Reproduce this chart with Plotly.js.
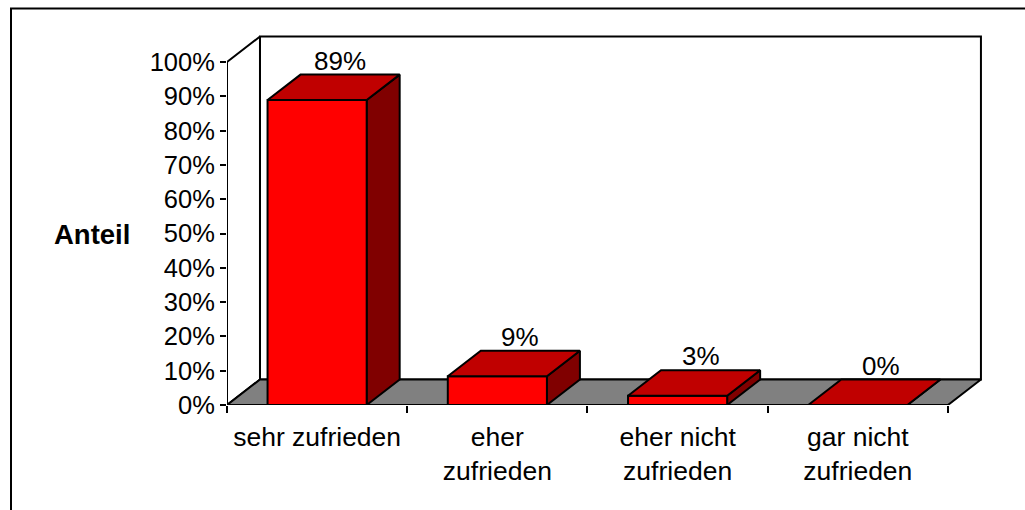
<!DOCTYPE html>
<html>
<head>
<meta charset="utf-8">
<script src="https://cdn.plot.ly/plotly-3.0.1.min.js"></script>
<style>
html,body{margin:0;padding:0;background:#fff;}
#chart{width:1025px;height:510px;}
</style>
</head>
<body>
<div id="chart"></div>
<script>
// ---- data ----
const categories = ['sehr zufrieden', 'eher<br>zufrieden', 'eher nicht<br>zufrieden', 'gar nicht<br>zufrieden'];
const shares = [0.889, 0.084, 0.027, 0.0];
const shareLabels = ['89%', '9%', '3%', '0%'];
const yTickValues = [0, 0.1, 0.2, 0.3, 0.4, 0.5, 0.6, 0.7, 0.8, 0.9, 1.0];
const yAxisLabel = 'Anteil';

// ---- geometry / style ----
const FONT = 'Liberation Sans, Arial, sans-serif';
const DX = 0.183;   // depth offset in x units
const DY = 0.0743;  // depth offset in y units
const BAR_W = 0.55;
const N = categories.length;
const LINE = {color: '#000', width: 2};

function poly(xs, ys, fill) {
  return {
    type: 'scatter', mode: 'lines',
    x: xs.concat([xs[0]]), y: ys.concat([ys[0]]),
    fill: 'toself', fillcolor: fill,
    line: LINE, hoverinfo: 'skip', showlegend: false
  };
}

const traces = [];
// back wall
traces.push(poly([DX, N + DX, N + DX, DX], [DY, DY, 1 + DY, 1 + DY], '#ffffff'));
// side wall
traces.push(poly([0, DX, DX, 0], [0, DY, 1 + DY, 1], '#ffffff'));
// floor
traces.push(poly([0, N, N + DX, DX], [0, 0, DY, DY], '#808080'));

// bars
const annotations = [];
shares.forEach((v, i) => {
  const c = i + 0.5, h = BAR_W / 2;
  const l = c - h, r = c + h;
  // side face
  traces.push(poly([r, r + DX, r + DX, r], [0, DY, v + DY, v], '#800000'));
  // front face
  if (v > 0) traces.push(poly([l, r, r, l], [0, 0, v, v], '#ff0000'));
  // top face
  traces.push(poly([l, r, r + DX, l + DX], [v, v, v + DY, v + DY], '#c00000'));
  annotations.push({
    x: c + 0.7 * DX, y: v + DY, xref: 'x', yref: 'y',
    text: shareLabels[i], showarrow: false,
    xanchor: 'center', yanchor: 'bottom', yshift: -3,
    font: {family: FONT, size: 26, color: '#000'}
  });
});

// y axis line
traces.push({type: 'scatter', mode: 'lines', x: [0, 0], y: [0, 1],
  line: LINE, hoverinfo: 'skip', showlegend: false});

annotations.push({
  xref: 'paper', yref: 'paper', x: -0.1255, y: 0.462,
  xanchor: 'right', yanchor: 'middle', showarrow: false,
  text: '<b>' + yAxisLabel + '</b>',
  font: {family: FONT, size: 27.5, color: '#000'}
});

const layout = {
  width: 1025, height: 510,
  margin: {l: 227, r: 41, t: 35, b: 105, pad: 0},
  paper_bgcolor: '#fff', plot_bgcolor: '#fff',
  font: {family: FONT, size: 25, color: '#000'},
  showlegend: false,
  xaxis: {
    range: [0, 4.2], showgrid: false, zeroline: false, showline: false,
    tickmode: 'array', tickvals: categories.map((_, i) => i + 0.5), ticktext: categories,
    ticks: '', ticklabelstandoff: 13,
    tickfont: {family: FONT, size: 26.5, color: '#000'},
    minor: {tickmode: 'linear', tick0: 0, dtick: 1, ticks: 'outside', ticklen: 7, tickwidth: 2, tickcolor: '#000', showgrid: false},
    fixedrange: true
  },
  yaxis: {
    range: [0, 370 / 343], showgrid: false, zeroline: false, showline: false,
    tickmode: 'array', tickvals: yTickValues, ticktext: yTickValues.map(t => Math.round(t * 100) + '%'),
    ticks: 'outside', ticklen: 6, tickwidth: 2, tickcolor: '#000',
    tickfont: {family: FONT, size: 25.5, color: '#000'},
    fixedrange: true
  },
  annotations: annotations,
  shapes: [{
    type: 'rect', xref: 'paper', yref: 'paper',
    x0: (11 - 227) / 757, x1: 1.2, y0: -0.5, y1: (405 - 8.5) / 370,
    line: {color: '#000', width: 2}, fillcolor: 'rgba(0,0,0,0)', layer: 'below'
  }]
};

Plotly.newPlot('chart', traces, layout, {displayModeBar: false, staticPlot: true});
</script>
</body>
</html>
